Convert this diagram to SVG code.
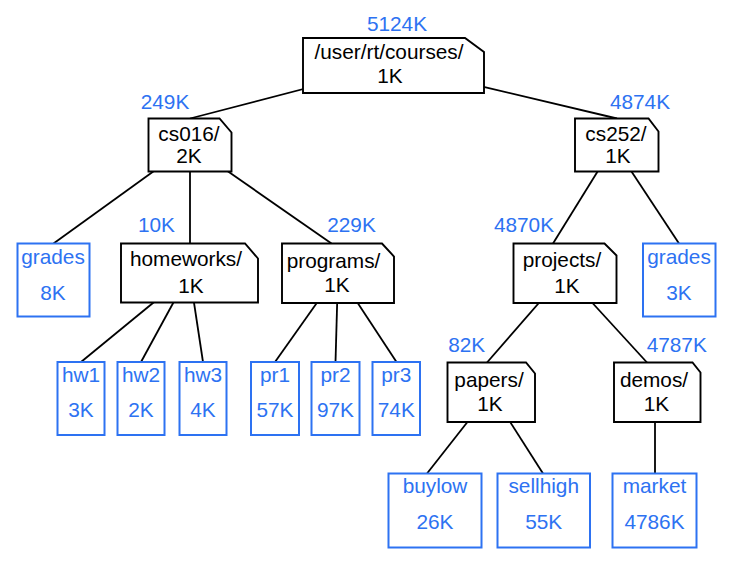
<svg xmlns="http://www.w3.org/2000/svg" width="731" height="564" viewBox="0 0 731 564">
<style>
text{font-family:"Liberation Sans",Arial,Helvetica,sans-serif;font-size:20.8px;text-anchor:middle}
.f{fill:#fff;stroke:#000;stroke-width:1.9;stroke-linejoin:miter}
.l{fill:#fff;stroke:#2d72f2;stroke-width:2}
.t{fill:#000}
.b{fill:#2d72f2}
.c line{stroke:#000;stroke-width:1.8}
</style>
<rect width="731" height="564" fill="#fff"/>
<g id="connectors" class="c">
<line x1="393.5" y1="65.5" x2="190" y2="118.5"/>
<line x1="393.5" y1="65.5" x2="617" y2="118.5"/>
<line x1="190" y1="145" x2="53.5" y2="243.5"/>
<line x1="190" y1="145" x2="190" y2="243.5"/>
<line x1="190" y1="145" x2="331.5" y2="243.5"/>
<line x1="614" y1="145" x2="553" y2="243.5"/>
<line x1="614" y1="145" x2="679" y2="243.5"/>
<line x1="189.5" y1="273" x2="81" y2="362"/>
<line x1="189.5" y1="273" x2="141" y2="362"/>
<line x1="189.5" y1="273" x2="203" y2="362"/>
<line x1="338" y1="273" x2="275" y2="362"/>
<line x1="338" y1="273" x2="335.5" y2="362"/>
<line x1="338" y1="273" x2="396.5" y2="362"/>
<line x1="565" y1="273" x2="487" y2="362.5"/>
<line x1="565" y1="273" x2="647" y2="362.5"/>
<line x1="491" y1="392" x2="427" y2="473.5"/>
<line x1="491" y1="392" x2="543" y2="473.5"/>
<line x1="655" y1="392" x2="655" y2="473.5"/>
</g>
<g id="root">
<text class="b" x="397" y="30.5">5124K</text>
<path class="f" d="M303 38 H465 L484 52 V93 H303 Z"/>
<text class="t" x="389" y="58.5">/user/rt/courses/</text>
<text class="t" x="390" y="82.5">1K</text>
</g>
<g id="cs016">
<text class="b" x="165" y="109">249K</text>
<path class="f" d="M148.5 118.5 H219.5 L231.5 132.5 V171.5 H148.5 Z"/>
<text class="t" x="189" y="141">cs016/</text>
<text class="t" x="189" y="162.7">2K</text>
</g>
<g id="cs252">
<text class="b" x="640" y="108.5">4874K</text>
<path class="f" d="M575 118.5 H648.5 L658.5 131.5 V171.5 H575 Z"/>
<text class="t" x="616" y="140.5">cs252/</text>
<text class="t" x="618" y="162.7">1K</text>
</g>
<g id="grades1">
<rect class="l" x="17.5" y="243.5" width="72" height="73"/>
<text class="b" x="53" y="263.5">grades</text>
<text class="b" x="53" y="300">8K</text>
</g>
<g id="homeworks">
<text class="b" x="156.5" y="232">10K</text>
<path class="f" d="M121 243.5 H245 L258 258.5 V302.5 H121 Z"/>
<text class="t" x="186" y="266">homeworks/</text>
<text class="t" x="191" y="292.5">1K</text>
</g>
<g id="programs">
<text class="b" x="351.5" y="232">229K</text>
<path class="f" d="M282 243.5 H382 L394 256.5 V303 H282 Z"/>
<text class="t" x="333.5" y="267.5">programs/</text>
<text class="t" x="337" y="292">1K</text>
</g>
<g id="projects">
<text class="b" x="524" y="232">4870K</text>
<path class="f" d="M513.5 243.5 H604.5 L616.5 255.5 V303 H513.5 Z"/>
<text class="t" x="562" y="267">projects/</text>
<text class="t" x="567" y="292.5">1K</text>
</g>
<g id="grades2">
<rect class="l" x="643" y="243.5" width="72.5" height="73"/>
<text class="b" x="679" y="263.5">grades</text>
<text class="b" x="679" y="300">3K</text>
</g>
<g id="hw1">
<rect class="l" x="57.5" y="362" width="47" height="73"/>
<text class="b" x="81" y="381.7">hw1</text>
<text class="b" x="81" y="416.7">3K</text>
</g>
<g id="hw2">
<rect class="l" x="117.5" y="362" width="47" height="73"/>
<text class="b" x="141" y="381.7">hw2</text>
<text class="b" x="141" y="416.7">2K</text>
</g>
<g id="hw3">
<rect class="l" x="179.5" y="362" width="47" height="73"/>
<text class="b" x="203" y="381.7">hw3</text>
<text class="b" x="203" y="416.7">4K</text>
</g>
<g id="pr1">
<rect class="l" x="251" y="362" width="48" height="73"/>
<text class="b" x="275" y="381.7">pr1</text>
<text class="b" x="275" y="416.7">57K</text>
</g>
<g id="pr2">
<rect class="l" x="311.5" y="362" width="48" height="73"/>
<text class="b" x="335.5" y="381.7">pr2</text>
<text class="b" x="335.5" y="416.7">97K</text>
</g>
<g id="pr3">
<rect class="l" x="372.5" y="362" width="47.5" height="73"/>
<text class="b" x="396.3" y="381.7">pr3</text>
<text class="b" x="396.3" y="416.7">74K</text>
</g>
<g id="papers">
<text class="b" x="466.7" y="351.5">82K</text>
<path class="f" d="M447.5 362.5 H526 L535 373.5 V422 H447.5 Z"/>
<text class="t" x="489" y="386.7">papers/</text>
<text class="t" x="490" y="410.5">1K</text>
</g>
<g id="demos">
<text class="b" x="676.7" y="351.5">4787K</text>
<path class="f" d="M614 362.5 H692.5 L700.5 372.5 V422 H614 Z"/>
<text class="t" x="654" y="386.7">demos/</text>
<text class="t" x="656.5" y="410.5">1K</text>
</g>
<g id="buylow">
<rect class="l" x="388.5" y="473.5" width="93" height="74"/>
<text class="b" x="435" y="493.3">buylow</text>
<text class="b" x="435" y="529.3">26K</text>
</g>
<g id="sellhigh">
<rect class="l" x="497.5" y="473.5" width="92.5" height="74"/>
<text class="b" x="543.7" y="493.3">sellhigh</text>
<text class="b" x="543.7" y="529.3">55K</text>
</g>
<g id="market">
<rect class="l" x="612.5" y="473.5" width="84" height="74"/>
<text class="b" x="654.5" y="493.3">market</text>
<text class="b" x="654.5" y="529.3">4786K</text>
</g>
</svg>
